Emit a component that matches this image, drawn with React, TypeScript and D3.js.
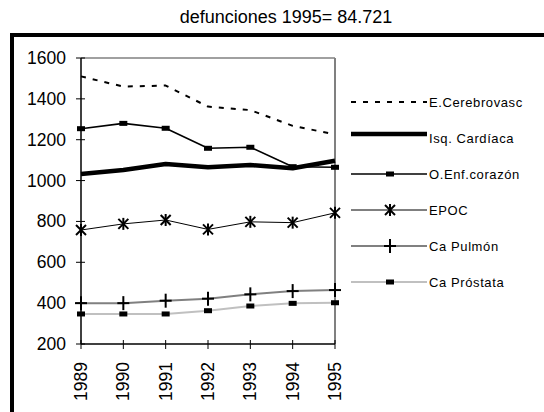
import React from "react";
import * as d3 from "d3";

const years = ["1989", "1990", "1991", "1992", "1993", "1994", "1995"];
const cerebrovasc = [1510, 1460, 1465, 1362, 1345, 1268, 1226];
const isqCardiaca = [1032, 1052, 1081, 1065, 1076, 1060, 1097];
const oEnfCorazon = [1254, 1280, 1256, 1158, 1163, 1068, 1065];
const epoc = [758, 788, 807, 761, 798, 794, 842];
const caPulmon = [400, 400, 412, 422, 443, 459, 464];
const caProstata = [347, 347, 347, 363, 386, 399, 402];
const yTicks = [200, 400, 600, 800, 1000, 1200, 1400, 1600];
const title = "defunciones 1995= 84.721";

type Marker = "none" | "rect" | "star" | "plus";
interface Series {
  name: string;
  values: number[];
  color: string;
  width: number;
  dash?: string;
  marker: Marker;
}

const series: Series[] = [
  { name: "E.Cerebrovasc", values: cerebrovasc, color: "#000", width: 2, dash: "5,7", marker: "none" },
  { name: "Isq. Cardíaca", values: isqCardiaca, color: "#000", width: 4.5, marker: "none" },
  { name: "O.Enf.corazón", values: oEnfCorazon, color: "#000", width: 1.6, marker: "rect" },
  { name: "EPOC", values: epoc, color: "#000", width: 1, marker: "star" },
  { name: "Ca Pulmón", values: caPulmon, color: "#808080", width: 2, marker: "plus" },
  { name: "Ca Próstata", values: caProstata, color: "#c0c0c0", width: 2, marker: "rect" },
];

const FONT = "'Liberation Sans', Arial, sans-serif";

function MarkerShape({ type, x, y }: { type: Marker; x: number; y: number }) {
  if (type === "rect") {
    return <rect x={x - 4} y={y - 2.5} width={8} height={5} fill="#000" />;
  }
  if (type === "star") {
    const s = 5;
    return (
      <g stroke="#000" strokeWidth={2}>
        <line x1={x - s} y1={y - s} x2={x + s} y2={y + s} />
        <line x1={x - s} y1={y + s} x2={x + s} y2={y - s} />
        <line x1={x} y1={y - s - 1} x2={x} y2={y + s + 1} />
      </g>
    );
  }
  if (type === "plus") {
    return (
      <g stroke="#000" strokeWidth={2}>
        <line x1={x - 6} y1={y} x2={x + 6} y2={y} />
        <line x1={x} y1={y - 7} x2={x} y2={y + 7} />
      </g>
    );
  }
  return null;
}

export default function App() {
  const W = 544;
  const H = 412;
  const x0 = 81;
  const x1 = 335;
  const yTop = 58;
  const yBot = 344;

  const x = d3.scalePoint<string>().domain(years).range([x0, x1]);
  const y = d3.scaleLinear().domain([200, 1600]).range([yBot, yTop]);
  const line = d3
    .line<number>()
    .x((_, i) => x(years[i]) as number)
    .y((v) => y(v));

  const legendX0 = 351;
  const legendX1 = 427;
  const legendY = [102, 134, 174, 210, 246, 282];

  return (
    <svg
      width={W}
      height={H}
      style={{ position: "absolute", left: 0, top: 0, background: "#fff" }}
      fontFamily={FONT}
    >
      <rect x={0} y={0} width={W} height={H} fill="#fff" />
      <text x={286} y={23} textAnchor="middle" fontSize={18} fill="#000">
        {title}
      </text>
      {/* outer frame */}
      <rect x={12} y={35} width={W + 20} height={H + 20} fill="none" stroke="#000" strokeWidth={4} />

      {/* plot area border (top & right gray) */}
      <line x1={x0} y1={yTop} x2={x1} y2={yTop} stroke="#808080" strokeWidth={1.5} />
      <line x1={x1} y1={yTop} x2={x1} y2={yBot} stroke="#808080" strokeWidth={2} />

      {/* series lines */}
      {series.map((s) => (
        <path
          key={s.name}
          d={line(s.values) || ""}
          fill="none"
          stroke={s.color}
          strokeWidth={s.width}
          strokeDasharray={s.dash}
          strokeLinejoin="round"
        />
      ))}
      {series.map((s) =>
        s.values.map((v, i) => (
          <MarkerShape key={s.name + i} type={s.marker} x={x(years[i]) as number} y={y(v)} />
        ))
      )}

      {/* axes */}
      <line x1={x0} y1={yTop} x2={x0} y2={yBot} stroke="#000" strokeWidth={1.5} />
      <line x1={x0} y1={yBot} x2={x1} y2={yBot} stroke="#000" strokeWidth={1.5} />
      {yTicks.map((t) => (
        <g key={t}>
          <line x1={x0 - 5} y1={y(t)} x2={x0 + 4} y2={y(t)} stroke="#000" strokeWidth={1} />
          <text x={66} y={y(t) + 6} textAnchor="end" fontSize={17.5} fill="#000">
            {t}
          </text>
        </g>
      ))}
      {years.map((yr) => (
        <g key={yr}>
          <line x1={x(yr) as number} y1={yBot - 4} x2={x(yr) as number} y2={yBot + 5} stroke="#000" strokeWidth={1} />
          <text
            transform={`translate(${(x(yr) as number) + 6},${362}) rotate(-90)`}
            textAnchor="end"
            fontSize={17.5}
            fill="#000"
          >
            {yr}
          </text>
        </g>
      ))}

      {/* legend */}
      {series.map((s, i) => {
        const ly = legendY[i];
        return (
          <g key={"lg" + s.name}>
            <line
              x1={legendX0}
              y1={ly}
              x2={legendX1}
              y2={ly}
              stroke={s.color}
              strokeWidth={s.width}
              strokeDasharray={s.dash}
            />
            <MarkerShape type={s.marker} x={(legendX0 + legendX1) / 2 + 1} y={ly} />
            <text x={legendX1 + 2} y={ly + 5 + (i === 1 ? 4 : 0)} fontSize={13} letterSpacing={0.6} fill="#000">
              {s.name}
            </text>
          </g>
        );
      })}
    </svg>
  );
}
